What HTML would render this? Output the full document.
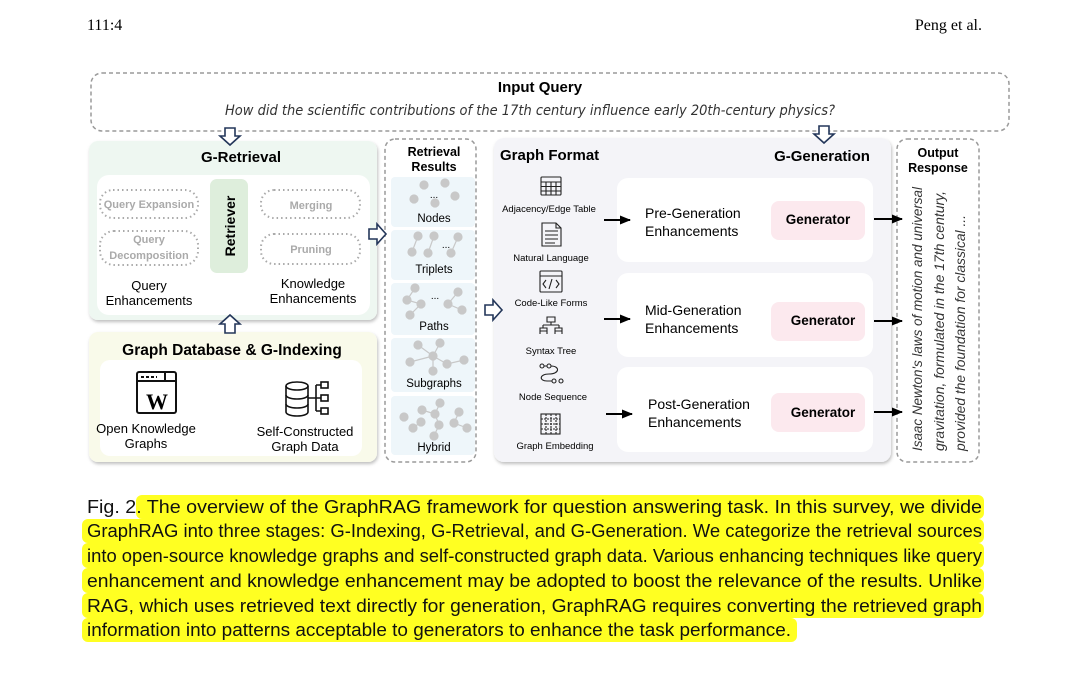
<!DOCTYPE html>
<html><head><meta charset="utf-8"><style>
html,body{margin:0;padding:0;background:#fff;}
svg{display:block;}
text{font-family:"Liberation Sans",Arial,sans-serif;}
</style></head><body>
<svg width="1078" height="682" viewBox="0 0 1078 682" xmlns="http://www.w3.org/2000/svg">
<defs>
<marker id="ah" markerUnits="userSpaceOnUse" markerWidth="12" markerHeight="12" refX="10" refY="6" orient="auto"><path d="M0,1.5 L11,6 L0,10.5 Z" fill="#000"/></marker>
<filter id="sh" x="-5%" y="-5%" width="110%" height="110%"><feDropShadow dx="1" dy="2" stdDeviation="1.5" flood-color="#000" flood-opacity="0.25"/></filter>
</defs>
<text x="87" y="30" font-size="16" style="font-family:'Liberation Serif',serif">111:4</text>
<text x="982" y="30" text-anchor="end" font-size="16" style="font-family:'Liberation Serif',serif">Peng et al.</text>

<rect x="91" y="73" width="918" height="58" rx="11" fill="#fff" stroke="#9a9a9a" stroke-width="1.5" stroke-dasharray="4,3"/>
<text x="540" y="92" text-anchor="middle" font-size="15" font-weight="bold">Input Query</text>
<text x="530" y="115" text-anchor="middle" font-size="14" font-style="italic" fill="#333" style="font-family:'DejaVu Sans',sans-serif" textLength="610" lengthAdjust="spacingAndGlyphs">How did the scientific contributions of the 17th century influence early 20th-century physics?</text>

<rect x="89" y="141" width="288" height="179" rx="9" fill="#eef7f1" filter="url(#sh)"/>
<text x="241" y="162" text-anchor="middle" font-size="15" font-weight="bold">G-Retrieval</text>
<rect x="97" y="175" width="273" height="140" rx="12" fill="#fff"/>
<g fill="none" stroke="#aaa" stroke-width="2" stroke-dasharray="1.5,3">
<rect x="100" y="190" width="98" height="28" rx="13"/>
<rect x="100" y="231" width="98" height="34" rx="14"/>
<rect x="261" y="190" width="99" height="28" rx="13"/>
<rect x="261" y="234" width="99" height="30" rx="13"/>
</g>
<g font-size="11" font-weight="bold" fill="#aaa" text-anchor="middle">
<text x="149" y="208">Query Expansion</text>
<text x="149" y="243">Query</text>
<text x="149" y="259">Decomposition</text>
<text x="311" y="209">Merging</text>
<text x="311" y="253">Pruning</text>
</g>
<rect x="210" y="179" width="38" height="94" rx="7" fill="#deeedc"/>
<text transform="translate(235,226) rotate(-90)" text-anchor="middle" font-size="14" font-weight="bold">Retriever</text>
<g font-size="13" text-anchor="middle">
<text x="149" y="290">Query</text>
<text x="149" y="305">Enhancements</text>
<text x="313" y="288">Knowledge</text>
<text x="313" y="303">Enhancements</text>
</g>

<rect x="89" y="332" width="288" height="130" rx="9" fill="#f9faea" filter="url(#sh)"/>
<text x="232" y="355" text-anchor="middle" font-size="15.5" font-weight="bold">Graph Database &amp; G-Indexing</text>
<rect x="100" y="360" width="262" height="96" rx="10" fill="#fff"/>
<g fill="none" stroke="#111" stroke-width="2">
<rect x="137" y="372" width="39" height="41" rx="2"/>
<line x1="137" y1="381" x2="176" y2="381"/>
<line x1="141" y1="377" x2="157" y2="377" stroke-dasharray="3,2"/>
<line x1="165" y1="372" x2="165" y2="381"/>
</g>
<text x="157" y="409" text-anchor="middle" font-size="22" font-weight="bold" style="font-family:'Liberation Serif',serif">W</text>
<g fill="none" stroke="#111" stroke-width="1.6">
<ellipse cx="297" cy="386" rx="11" ry="4"/>
<path d="M286,386 V412 A11,4 0 0 0 308,412 V386"/>
<path d="M286,395 A11,4 0 0 0 308,395 M286,404 A11,4 0 0 0 308,404"/>
<rect x="321" y="382" width="7" height="6"/><rect x="321" y="395" width="7" height="6"/><rect x="321" y="408" width="7" height="6"/>
<path d="M308,398 H316 M316,385 V411 M316,385 H321 M316,398 H321 M316,411 H321"/>
</g>
<g font-size="13" text-anchor="middle">
<text x="146" y="433">Open Knowledge</text>
<text x="146" y="448">Graphs</text>
<text x="305" y="436">Self-Constructed</text>
<text x="305" y="451">Graph Data</text>
</g>

<rect x="385" y="139" width="91" height="323" rx="10" fill="#fff" stroke="#9a9a9a" stroke-width="1.5" stroke-dasharray="4,3"/>
<text x="434" y="156" text-anchor="middle" font-size="12.5" font-weight="bold">Retrieval</text>
<text x="434" y="171" text-anchor="middle" font-size="12.5" font-weight="bold">Results</text>
<g fill="#eef6fa">
<rect x="391" y="177" width="84" height="50" rx="4"/>
<rect x="391" y="230" width="84" height="50" rx="4"/>
<rect x="391" y="283" width="84" height="52" rx="4"/>
<rect x="391" y="338" width="84" height="54" rx="4"/>
<rect x="391" y="396" width="84" height="59" rx="4"/>
</g>
<g fill="#c8c8c8" stroke="#c8c8c8" stroke-width="1.2">
<circle cx="424" cy="185" r="4"/><circle cx="445" cy="183" r="4"/><circle cx="414" cy="199" r="4"/><circle cx="435" cy="203" r="4"/><circle cx="455" cy="196" r="4"/>
<circle cx="418" cy="236" r="4"/><circle cx="412" cy="252" r="4"/><circle cx="434" cy="236" r="4"/><circle cx="428" cy="253" r="4"/><circle cx="458" cy="237" r="4"/><circle cx="451" cy="253" r="4"/>
<line x1="418" y1="236" x2="412" y2="252"/><line x1="434" y1="236" x2="428" y2="253"/><line x1="458" y1="237" x2="451" y2="253"/>
<circle cx="415" cy="288" r="4"/><circle cx="407" cy="300" r="4"/><circle cx="421" cy="304" r="4"/><circle cx="410" cy="315" r="4"/><circle cx="458" cy="292" r="4"/><circle cx="448" cy="304" r="4"/><circle cx="462" cy="310" r="4"/>
<path d="M415,288 L407,300 L421,304 L410,315 M458,292 L448,304 L462,310" fill="none"/>
<circle cx="418" cy="345" r="4"/><circle cx="440" cy="343" r="4"/><circle cx="433" cy="356" r="4"/><circle cx="410" cy="362" r="4"/><circle cx="447" cy="364" r="4"/><circle cx="464" cy="360" r="4"/><circle cx="433" cy="371" r="4"/>
<path d="M418,345 L433,356 L440,343 M433,356 L410,362 M433,356 L447,364 L464,360 M433,356 L433,371" fill="none"/>
<circle cx="440" cy="403" r="4"/><circle cx="435" cy="414" r="4"/><circle cx="422" cy="410" r="4"/><circle cx="439" cy="425" r="4"/><circle cx="413" cy="428" r="4"/><circle cx="421" cy="422" r="4"/><circle cx="459" cy="412" r="4"/><circle cx="454" cy="423" r="4"/><circle cx="467" cy="428" r="4"/><circle cx="434" cy="436" r="4"/><circle cx="404" cy="417" r="4"/>
<path d="M440,403 L435,414 L439,425 L434,436 M422,410 L435,414 M413,428 L421,422 M459,412 L454,423 L467,428" fill="none"/>
</g>
<g font-size="11.5" text-anchor="middle">
<text x="434" y="198" font-size="10">...</text>
<text x="434" y="222">Nodes</text>
<text x="446" y="248" font-size="10">...</text>
<text x="434" y="273">Triplets</text>
<text x="435" y="299" font-size="10">...</text>
<text x="434" y="330">Paths</text>
<text x="434" y="387">Subgraphs</text>
<text x="434" y="451">Hybrid</text>
</g>

<rect x="494" y="138" width="397" height="324" rx="10" fill="#f4f4f8" filter="url(#sh)"/>
<text x="500" y="160" font-size="15" font-weight="bold">Graph Format</text>
<text x="822" y="161" text-anchor="middle" font-size="15" font-weight="bold">G-Generation</text>
<g fill="none" stroke="#222" stroke-width="1.1">
<rect x="541" y="177" width="20" height="18" rx="1"/><path d="M541,182 H561 M541,186.5 H561 M541,191 H561 M546,182 V195 M551,182 V195 M556,182 V195"/>
<path d="M542,223 H556 L561,228 V246 H542 Z M556,223 V228 H561 M545,231 H558 M545,235 H558 M545,239 H558 M545,243 H555"/>
<rect x="540" y="271" width="22" height="21" rx="1"/><path d="M540,276 H562 M546,280 L543,284 L546,288 M556,280 L559,284 L556,288 M552,279 L549,289"/>
<path d="M547,317 H555 V322 H547 Z M551,322 V325 M543,325 H559 M543,325 V328 M559,325 V328 M540,328 H547 V331 H540 Z M555,328 H562 V331 H555 Z M540,331 V334 M547,331 V334 M555,331 V334 M562,331 V334"/>
<circle cx="542" cy="366" r="2"/><circle cx="549" cy="366" r="2"/><path d="M544,366 H547 M551,366 C560,366 560,374 549,374 C539,374 539,381 547,381 H552"/><circle cx="554" cy="381" r="2"/><circle cx="561" cy="381" r="2"/>
<rect x="541" y="414" width="19" height="20"/><path d="M541,419 H560 M541,424 H560 M541,429 H560 M546,414 V434 M551,414 V434 M556,414 V434" stroke-dasharray="2,1"/>
</g>
<g font-size="9.5" text-anchor="middle">
<text x="549" y="212">Adjacency/Edge Table</text>
<text x="551" y="261">Natural Language</text>
<text x="551" y="306">Code-Like Forms</text>
<text x="551" y="354">Syntax Tree</text>
<text x="553" y="400">Node Sequence</text>
<text x="555" y="449">Graph Embedding</text>
</g>
<g fill="#fff">
<rect x="617" y="178" width="256" height="84" rx="11"/>
<rect x="617" y="273" width="256" height="84" rx="11"/>
<rect x="617" y="367" width="256" height="85" rx="11"/>
</g>
<g fill="#fce9ee">
<rect x="771" y="201" width="94" height="39" rx="8"/>
<rect x="771" y="302" width="94" height="39" rx="8"/>
<rect x="771" y="393" width="94" height="39" rx="8"/>
</g>
<g font-size="13.5" font-weight="bold" text-anchor="middle">
<text x="818" y="224">Generator</text>
<text x="823" y="325">Generator</text>
<text x="823" y="417">Generator</text>
</g>
<g font-size="14">
<text x="645" y="218">Pre-Generation</text>
<text x="645" y="236">Enhancements</text>
<text x="645" y="315">Mid-Generation</text>
<text x="645" y="333">Enhancements</text>
<text x="648" y="409">Post-Generation</text>
<text x="648" y="427">Enhancements</text>
</g>

<rect x="897" y="139" width="82" height="323" rx="10" fill="#fff" stroke="#9a9a9a" stroke-width="1.5" stroke-dasharray="4,3"/>
<text x="938" y="157" text-anchor="middle" font-size="12.5" font-weight="bold">Output</text>
<text x="938" y="172" text-anchor="middle" font-size="12.5" font-weight="bold">Response</text>
<g font-size="13.5" font-style="italic" fill="#333" style="font-family:'DejaVu Sans',sans-serif">
<text transform="translate(922,451) rotate(-90)" textLength="264" lengthAdjust="spacingAndGlyphs">Isaac Newton's laws of motion and universal</text>
<text transform="translate(944,451) rotate(-90)" textLength="260" lengthAdjust="spacingAndGlyphs">gravitation, formulated in the 17th century,</text>
<text transform="translate(965,451) rotate(-90)" textLength="236" lengthAdjust="spacingAndGlyphs">provided the foundation for classical ...</text>
</g>

<g stroke="#000" stroke-width="2" marker-end="url(#ah)">
<line x1="604" y1="220" x2="630" y2="220"/>
<line x1="604" y1="319" x2="630" y2="319"/>
<line x1="606" y1="414" x2="632" y2="414"/>
<line x1="874" y1="219" x2="902" y2="219"/>
<line x1="874" y1="321" x2="902" y2="321"/>
<line x1="874" y1="412" x2="902" y2="412"/>
</g>

<g fill="#fff" stroke="#24375a" stroke-width="1.6">
<path d="M225,128 H235 V136 H240 L230,145 L220,136 H225 Z"/>
<path d="M819,126 H829 V134 H834 L824,143 L814,134 H819 Z"/>
<path d="M225,333 H235 V324 H240 L230,315 L220,324 H225 Z"/>
<path d="M369,229 H377 V224 L386,234 L377,244 V239 H369 Z"/>
<path d="M485,305 H493 V300 L502,310 L493,320 V315 H485 Z"/>
</g>

<g fill="#ffff22">
<rect x="136" y="495" width="848" height="24" rx="6"/>
<rect x="82" y="519" width="902" height="24" rx="6"/>
<rect x="82" y="543" width="902" height="25" rx="6"/>
<rect x="82" y="568" width="902" height="25" rx="6"/>
<rect x="82" y="593" width="902" height="25" rx="6"/>
<rect x="82" y="618" width="715" height="24" rx="6"/>
</g>
<g font-size="18" fill="#111" style="font-family:'DejaVu Sans',sans-serif">
<text x="87" y="513" textLength="895" lengthAdjust="spacingAndGlyphs">Fig. 2.  The overview of the GraphRAG framework for question answering task. In this survey, we divide</text>
<text x="87" y="537" textLength="895" lengthAdjust="spacingAndGlyphs">GraphRAG into three stages: G-Indexing, G-Retrieval, and G-Generation. We categorize the retrieval sources</text>
<text x="87" y="562" textLength="895" lengthAdjust="spacingAndGlyphs">into open-source knowledge graphs and self-constructed graph data. Various enhancing techniques like query</text>
<text x="87" y="587" textLength="895" lengthAdjust="spacingAndGlyphs">enhancement and knowledge enhancement may be adopted to boost the relevance of the results. Unlike</text>
<text x="87" y="612" textLength="895" lengthAdjust="spacingAndGlyphs">RAG, which uses retrieved text directly for generation, GraphRAG requires converting the retrieved graph</text>
<text x="87" y="636" textLength="704" lengthAdjust="spacingAndGlyphs">information into patterns acceptable to generators to enhance the task performance.</text>
</g>
</svg>
</body></html>
